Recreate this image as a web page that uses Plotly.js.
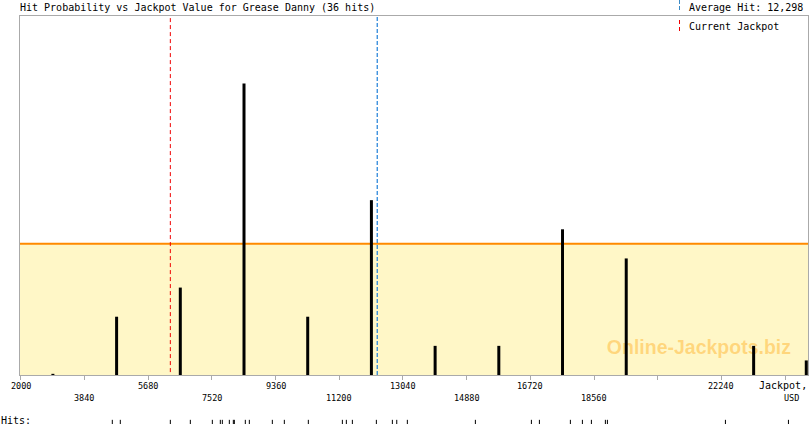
<!DOCTYPE html>
<html>
<head>
<meta charset="utf-8">
<script src="https://cdn.plot.ly/plotly-3.0.1.min.js"></script>
<style>html,body{margin:0;padding:0;background:#fff;}#chart{width:810px;height:425px;}</style>
</head>
<body>
<div id="chart"></div>
<script>
// ---- data ----
const chartTitle = "Hit Probability vs Jackpot Value for Grease Danny (36 hits)";
const binCenters = [2930, 4770, 6610, 8450, 10290, 12130, 13970, 15810, 17650, 19490, 23170, 24690];
const hitProbability = [0.04, 2, 3, 10, 2, 6, 1, 1, 5, 4, 1, 0.5];
const hitValues = [4646, 4877, 6322, 6900, 7535, 7766, 7824, 8026, 8142, 8171, 8488, 8604,
  9268, 9615, 10308, 11291, 11406, 11580, 12273, 12735, 12862, 13168, 15133, 16751,
  16982, 17877, 18224, 18484, 18888, 18946, 22355, 24175];
const axisTicks = [2000, 3840, 5680, 7520, 9360, 11200, 13040, 14880, 16720, 18560, 20400, 22240, 24080];
const tickLabelsRow1 = [2000, 5680, 9360, 13040, 16720, 22240];
const tickLabelsRow2 = [3840, 7520, 11200, 14880, 18560];
const averageHit = 12298;
const currentJackpot = 6322;
const averageLevel = 4.5;
const xRange = [1980, 24740];
const yRange = [0, 12.32];

// ---- geometry helpers (layout only) ----
const H = 425, T = 16, PH = H - T; // plot area spans y=16..425
const py = px => (H - px) / PH;     // pixel y -> paper y
const pxx = px => (px - 20) / 788;  // pixel x -> paper x
const mono = 'DejaVu Sans Mono';

// bars as thick vertical segments (drawn above fill & watermark)
const barX = [], barY = [];
binCenters.forEach((c, i) => { barX.push(c, c, null); barY.push(0, hitProbability[i], null); });

const traces = [
  { // average level fill
    x: xRange, y: [averageLevel, averageLevel], type: 'scatter', mode: 'lines',
    fill: 'tozeroy', fillcolor: '#FFF7C7', line: { color: '#FF8A00', width: 2 },
    hoverinfo: 'skip', showlegend: false
  },
  { // watermark
    x: [21590], y: [0.89], type: 'scatter', mode: 'text', text: ['Online-Jackpots.biz'],
    textfont: { family: 'Liberation Sans, Arial, sans-serif', size: 19.5, color: 'rgba(255,160,0,0.38)', weight: 'bold' },
    textposition: 'middle center', hoverinfo: 'skip', showlegend: false
  },
  { // bars
    x: barX, y: barY, type: 'scatter', mode: 'lines', connectgaps: false,
    line: { color: '#000', width: 3 }, hoverinfo: 'skip', showlegend: false
  },
  { // current jackpot
    x: [currentJackpot, currentJackpot], y: [0.1, yRange[1]], type: 'scatter', mode: 'lines',
    line: { color: '#F00000', width: 1, dash: '4px,3px' }, hoverinfo: 'skip', showlegend: false
  },
  { // average hit
    x: [averageHit, averageHit], y: [0, yRange[1]], type: 'scatter', mode: 'lines',
    line: { color: '#1E7FD8', width: 1.2, dash: '4px,2px' }, hoverinfo: 'skip', showlegend: false
  },
  { // hits rug
    x: hitValues, y: hitValues.map(() => 0.15), xaxis: 'x', yaxis: 'y2', type: 'scatter', mode: 'markers',
    marker: { symbol: 'line-ns-open', size: 3, color: '#000', line: { width: 1, color: '#000' } },
    hoverinfo: 'skip', showlegend: false
  }
];

const annotations = [];
tickLabelsRow1.forEach(v => annotations.push({
  x: v, xref: 'x', y: py(385.7), yref: 'paper', text: String(v), showarrow: false,
  xanchor: 'center', yanchor: 'middle', font: { family: mono, size: 8.5, color: '#000' }
}));
tickLabelsRow2.forEach(v => annotations.push({
  x: v, xref: 'x', y: py(398), yref: 'paper', text: String(v), showarrow: false,
  xanchor: 'center', yanchor: 'middle', font: { family: mono, size: 8.5, color: '#000' }
}));
annotations.push(
  { x: 1, xref: 'paper', y: py(385.5), yref: 'paper', text: 'Jackpot,', showarrow: false,
    xanchor: 'right', yanchor: 'middle', borderpad: 0, font: { family: mono, size: 10, color: '#000' } },
  { x: pxx(791), xref: 'paper', y: py(398), yref: 'paper', text: 'USD', showarrow: false,
    xanchor: 'center', yanchor: 'middle', font: { family: mono, size: 8.5, color: '#000' } },
  { x: pxx(-1), xref: 'paper', y: py(420.5), yref: 'paper', text: 'Hits:', showarrow: false,
    xanchor: 'left', yanchor: 'middle', font: { family: mono, size: 10, color: '#000' } },
  { x: pxx(687), xref: 'paper', y: py(7), yref: 'paper',
    text: 'Average Hit: ' + averageHit.toLocaleString('en-US'), showarrow: false,
    xanchor: 'left', yanchor: 'middle', font: { family: mono, size: 10, color: '#000' } },
  { x: pxx(687), xref: 'paper', y: py(27), yref: 'paper', text: 'Current Jackpot', showarrow: false,
    xanchor: 'left', yanchor: 'middle', font: { family: mono, size: 10, color: '#000' } }
);

const shapes = [
  { type: 'line', xref: 'paper', yref: 'paper', x0: pxx(679.5), x1: pxx(679.5), y0: py(0), y1: py(12),
    line: { color: '#3A8AC6', width: 1, dash: '4px,2px' } },
  { type: 'line', xref: 'paper', yref: 'paper', x0: pxx(679.5), x1: pxx(679.5), y0: py(20), y1: py(33),
    line: { color: '#F00000', width: 1, dash: '4px,3px' } }
];

const layout = {
  width: 810, height: 425,
  margin: { l: 20, r: 2, t: T, b: 0, pad: 0 },
  paper_bgcolor: '#fff', plot_bgcolor: '#fff',
  showlegend: false,
  title: { text: chartTitle, xref: 'container', yref: 'container', x: 20 / 810, xanchor: 'left',
    y: 1 - 7 / 425, yanchor: 'middle', pad: { t: 0, b: 0, l: 0, r: 0 },
    font: { family: mono, size: 10, color: '#000' } },
  xaxis: { range: xRange, tickvals: axisTicks, ticks: 'outside', ticklen: 4, tickwidth: 1,
    tickcolor: '#AAAAAA', showticklabels: false, showline: true, linecolor: '#AAAAAA', linewidth: 1,
    mirror: true, showgrid: false, zeroline: false, anchor: 'y', fixedrange: true },
  yaxis: { domain: [50 / PH, 1], range: yRange, showline: true, linecolor: '#AAAAAA', linewidth: 1,
    mirror: true, showticklabels: false, ticks: '', showgrid: false, zeroline: false, fixedrange: true },
  yaxis2: { domain: [0, 0.05], range: [0, 1], visible: false, anchor: 'x', fixedrange: true },
  annotations: annotations,
  shapes: shapes
};

Plotly.newPlot('chart', traces, layout, { displayModeBar: false, staticPlot: true });
</script>
</body>
</html>
